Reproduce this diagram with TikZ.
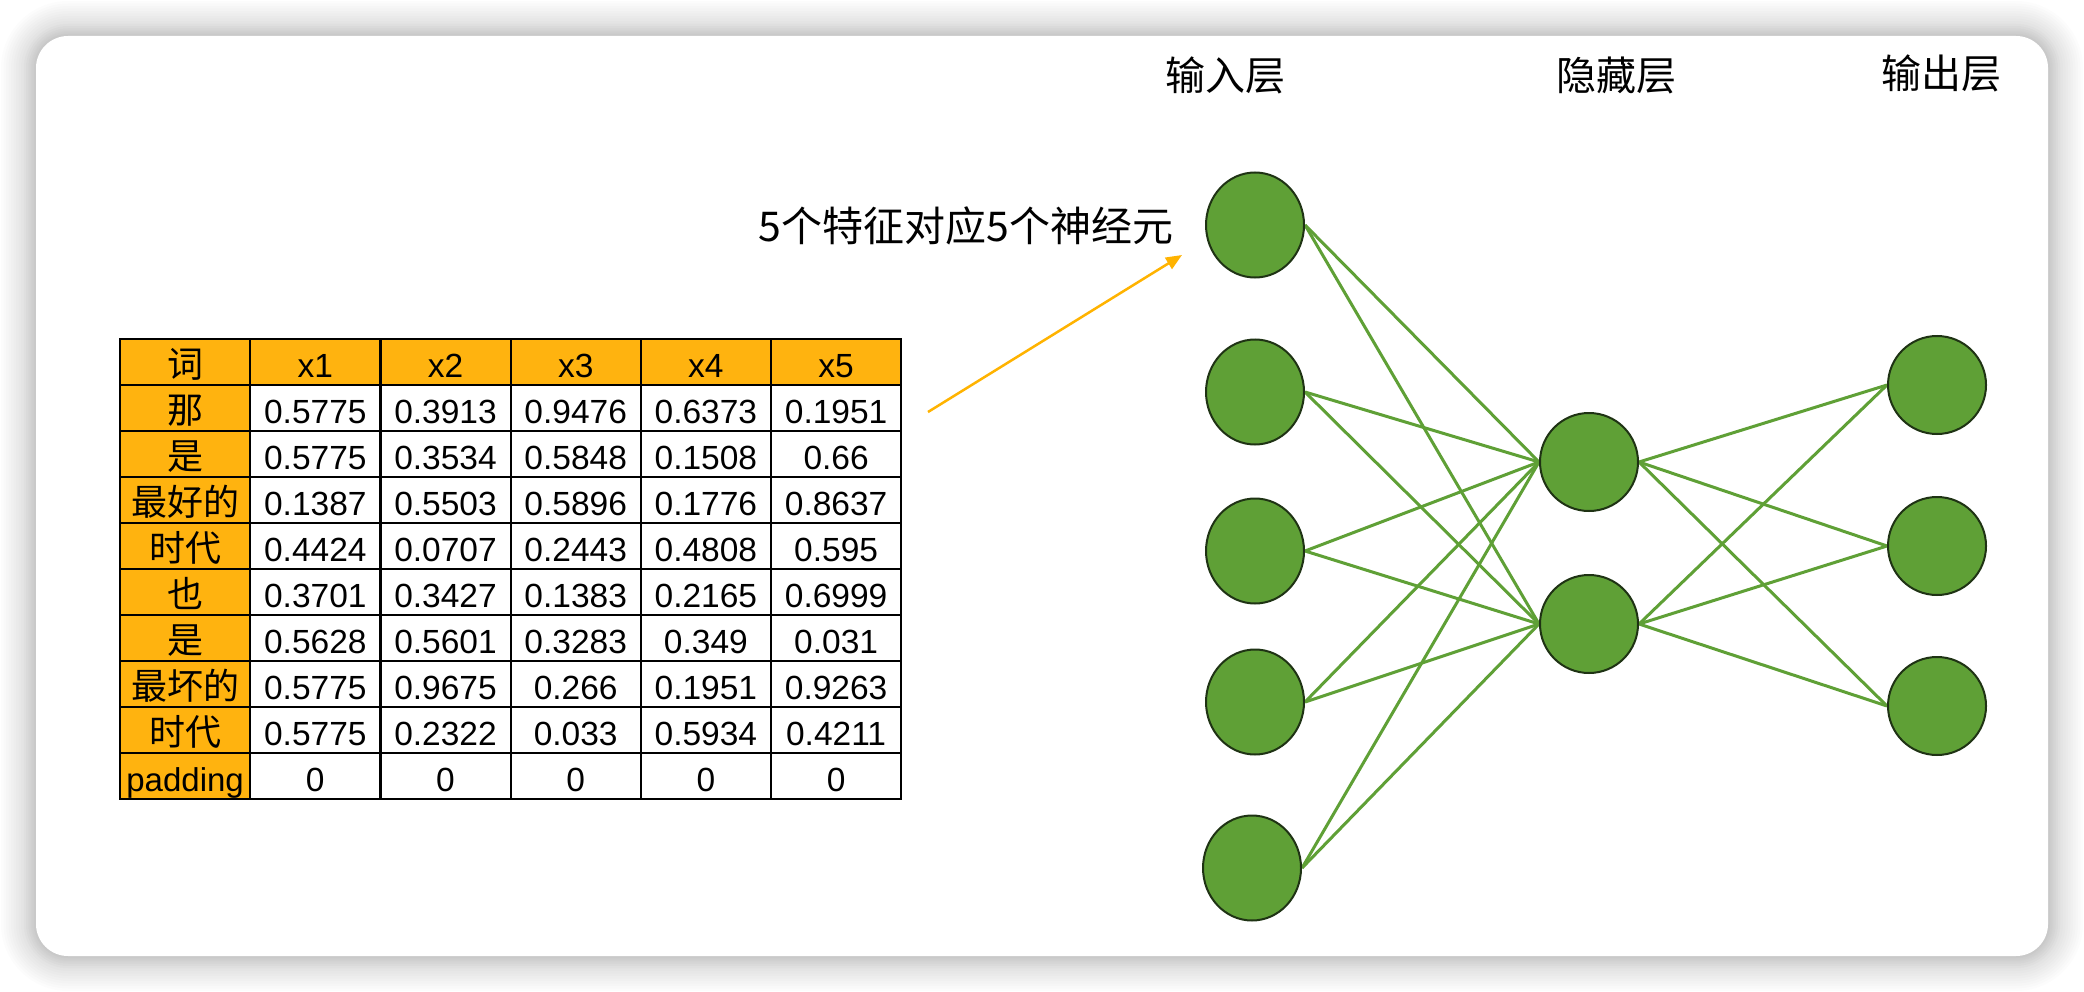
\documentclass[tikz,border=0pt]{standalone}
\usepackage{fontspec}
\setmainfont{Liberation Sans}
\newfontfamily\cjk{Noto Sans CJK SC}
\usetikzlibrary{shapes.geometric,arrows.meta}
\definecolor{nngreen}{HTML}{5FA036}
\definecolor{nnedge}{HTML}{1F3314}
\definecolor{hdr}{HTML}{FFB30F}
\definecolor{arrowc}{HTML}{FFB300}
\pgfdeclarelayer{back}
\pgfdeclarelayer{links}
\pgfsetlayers{back,links,main}
\tikzset{
  cell/.style={draw=black, fill=white, line width=2.2pt, minimum width=130.2pt, minimum height=46pt,
    inner sep=0pt, text height=30pt, text depth=0pt, font=\fontsize{33.5}{36}\selectfont},
  hcell/.style={cell, fill=hdr},
  wcell/.style={hcell, font=\cjk\fontsize{36}{40}\selectfont},
  neuron/.style={ellipse, draw=nnedge, fill=nngreen, line width=2pt, inner sep=0pt,
    minimum width=98pt, minimum height=105pt},
  unit/.style={circle, draw=nnedge, fill=nngreen, line width=2pt, inner sep=0pt, minimum size=98pt},
  link/.style={draw=nngreen, line width=3pt},
  layerlabel/.style={font=\cjk\fontsize{40}{44}\selectfont, inner sep=0pt},
  note/.style={font=\cjk\fontsize{41}{46}\selectfont, inner sep=0pt},
  pointer/.style={draw=arrowc, line width=2.5pt, -{Triangle[length=16pt,width=13pt,fill=arrowc]}}
}
\begin{document}
\begin{tikzpicture}[x=1pt,y=-1pt]
\useasboundingbox (0,0) rectangle (2084,992);
\begin{pgfonlayer}{back}
  \fill[white] (0,0) rectangle (2084,992);
  \foreach \i in {1,...,14} {
    \pgfmathsetmacro\rr{32+2.5*\i}
    \fill[black, opacity=0.010, rounded corners=\rr pt] ({36-2.5*\i},{36-2.5*\i}) rectangle ({2048+2.5*\i},{956+2.5*\i});
  }
  \foreach \i in {1,...,6} {
    \pgfmathsetmacro\rr{32+2*\i}
    \fill[black, opacity=0.008, rounded corners=\rr pt] ({36-2*\i},{36-2*\i}) rectangle ({2048+2*\i},{956+2*\i});
  }
  \fill[white, rounded corners=32pt] (36,36) rectangle (2048,956);
\end{pgfonlayer}

% table
\node[wcell] (h0) at (185.1,362) {词};
\foreach \t [count=\k] in {x1,x2,x3,x4,x5}
  \node[hcell] (h\k) at ({120+130.2*(\k+0.5)},362) {\t};
\foreach \w/\va/\vb/\vc/\vd/\ve [count=\r] in {
  那/0.5775/0.3913/0.9476/0.6373/0.1951,
  是/0.5775/0.3534/0.5848/0.1508/0.66,
  最好的/0.1387/0.5503/0.5896/0.1776/0.8637,
  时代/0.4424/0.0707/0.2443/0.4808/0.595,
  也/0.3701/0.3427/0.1383/0.2165/0.6999,
  是/0.5628/0.5601/0.3283/0.349/0.031,
  最坏的/0.5775/0.9675/0.266/0.1951/0.9263,
  时代/0.5775/0.2322/0.033/0.5934/0.4211} {
  \node[wcell] (r\r-0) at (185.1,{339+46*(\r+0.5)}) {\w};
  \foreach \v [count=\k] in {\va,\vb,\vc,\vd,\ve}
    \node[cell] (r\r-\k) at ({120+130.2*(\k+0.5)},{339+46*(\r+0.5)}) {\v};
}
\node[hcell, font=\fontsize{33}{36}\selectfont] (r9-0) at (185.1,776) {padding};
\foreach \k in {1,...,5}
  \node[cell] (r9-\k) at ({120+130.2*(\k+0.5)},776) {0};

% annotation
\node[note] (note) at (966,226) {5个特征对应5个神经元};
\coordinate (as) at (928,412);
\coordinate (ae) at (1182,255);
\draw[pointer] (as) -- (ae);

% layer labels
\node[layerlabel] (lin) at (1225,75) {输入层};
\node[layerlabel] (lhid) at (1616,75) {隐藏层};
\node[layerlabel] (lout) at (1941,73) {输出层};

% neurons
\node[neuron] (i1) at (1255,225) {};
\node[neuron] (i2) at (1255,392) {};
\node[neuron] (i3) at (1255,551) {};
\node[neuron] (i4) at (1255,702) {};
\node[neuron] (i5) at (1252,868) {};
\node[unit] (hid1) at (1589,462) {};
\node[unit] (hid2) at (1589,624) {};
\node[unit] (o1) at (1937,385) {};
\node[unit] (o2) at (1937,546) {};
\node[unit] (o3) at (1937,706) {};

\begin{pgfonlayer}{links}
  \foreach \i in {1,...,5}
    \foreach \h in {1,2}
      \draw[link] (i\i.east) -- (hid\h.west);
  \foreach \h in {1,2}
    \foreach \o in {1,2,3}
      \draw[link] (hid\h.east) -- (o\o.west);
\end{pgfonlayer}
\end{tikzpicture}
\end{document}
